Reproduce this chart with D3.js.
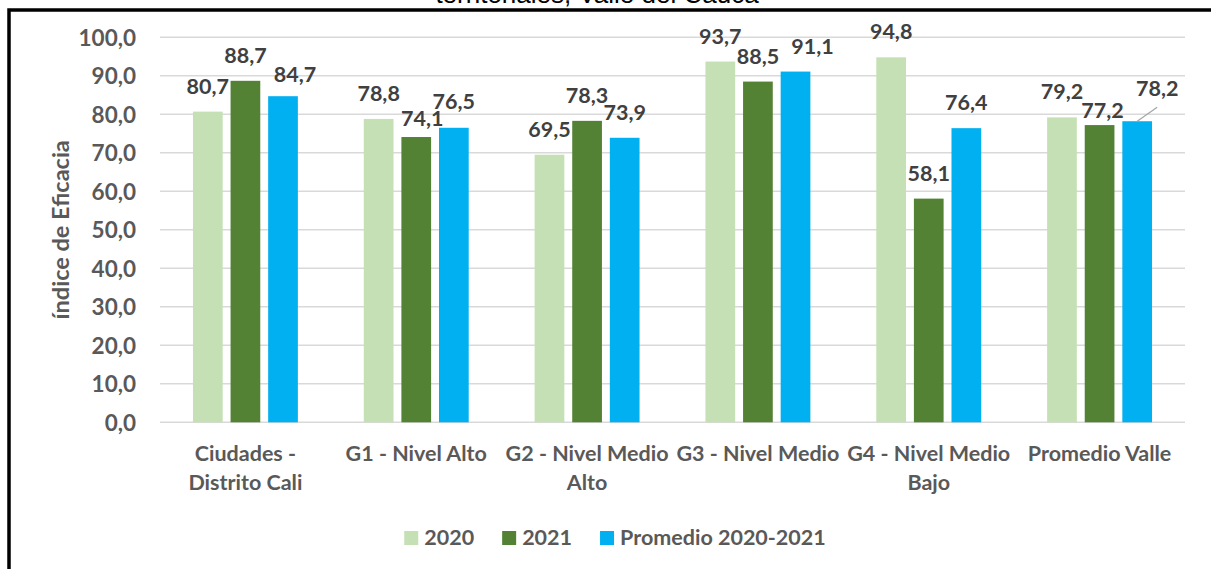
<!DOCTYPE html>
<html>
<head>
<meta charset="utf-8">
<script src="https://cdn.jsdelivr.net/npm/d3@7"></script>
<style>
  html, body { margin: 0; padding: 0; background: #ffffff; }
  svg { display: block; }
</style>
</head>
<body>
<svg id="chart" width="1211" height="569"></svg>
<script>
// ---- data ----
const categories = ["Ciudades - Distrito Cali", "G1 - Nivel Alto", "G2 - Nivel Medio Alto", "G3 - Nivel Medio", "G4 - Nivel Medio Bajo", "Promedio Valle"];
const seriesNames = ["2020", "2021", "Promedio 2020-2021"];
const values2020 = [80.7, 78.8, 69.5, 93.7, 94.8, 79.2];
const values2021 = [88.7, 74.1, 78.3, 88.5, 58.1, 77.2];
const valuesProm = [84.7, 76.5, 73.9, 91.1, 76.4, 78.2];
const yTicks = [0, 10, 20, 30, 40, 50, 60, 70, 80, 90, 100];
const titleText = "territoriales, Valle del Cauca";
const yAxisTitle = "índice de Eficacia";

// ---- styling / layout (kept separate from data) ----
const colors = ["#c5e0b4", "#548235", "#00b0f0"];
// label nudges [dx, dy] per series, per category (manual label placement in the original)
const labelNudge = [
  [[0,0],[0,0],[0,0],[0,0],[0,0],[0,0]],
  [[0,0],[6,7],[0,0],[0,0],[0,0],[3,11]],
  [[12,4],[0,-1],[0,0],[17,0],[0,0],[20,-7]]
];
const leaderLines = [[2,5]]; // [series, category] with a leader line

const svg = d3.select("#chart");
const W = 1211, H = 569;
const plot = { left: 160, right: 1185, top: 37.3, bottom: 422.3 };
const FONT = "Lato, sans-serif";

// frame border
svg.append("rect")
  .attr("x", 9).attr("y", 10)
  .attr("width", W + 20).attr("height", H + 20)
  .attr("fill", "none").attr("stroke", "#000").attr("stroke-width", 3.5);

// title (clipped at top)
svg.append("text")
  .attr("x", 597).attr("y", 3)
  .attr("text-anchor", "middle")
  .attr("font-family", "Liberation Sans, Arial, sans-serif")
  .attr("font-size", 26)
  .attr("fill", "#000")
  .text(titleText);

const y = d3.scaleLinear().domain([0, 100]).range([plot.bottom, plot.top]);
const x0 = d3.scaleBand().domain(categories).range([plot.left, plot.right]).padding(0);
const bw = x0.bandwidth();
const groupW = 104.9;
const x1 = d3.scaleBand().domain(seriesNames)
  .range([(bw - groupW) / 2, (bw + groupW) / 2])
  .paddingInner(0.21).paddingOuter(0);

const fmt = v => d3.format(".1f")(v).replace(".", ",");

// gridlines
svg.append("g").selectAll("line").data(yTicks).join("line")
  .attr("x1", plot.left).attr("x2", plot.right)
  .attr("y1", d => y(d)).attr("y2", d => y(d))
  .attr("stroke", "#d9d9d9").attr("stroke-width", 1.5);

// y axis tick labels via d3 axis
const yAxis = d3.axisLeft(y).tickValues(yTicks).tickFormat(fmt).tickSize(0).tickPadding(0);
const gy = svg.append("g").attr("transform", `translate(136,0)`).call(yAxis);
gy.select(".domain").remove();
gy.selectAll("text")
  .attr("font-family", FONT)
  .attr("font-weight", "bold")
  .attr("font-size", 22.5)
  .attr("fill", "#595959")
  .attr("dy", "0.36em");

// y axis title
svg.append("text")
  .attr("transform", `translate(69,${(plot.top + plot.bottom) / 2}) rotate(-90)`)
  .attr("text-anchor", "middle")
  .attr("font-family", FONT)
  .attr("font-weight", "bold")
  .attr("font-size", 23.5)
  .attr("fill", "#595959")
  .text(yAxisTitle);

const seriesValues = [values2020, values2021, valuesProm];

// bars
seriesNames.forEach((s, si) => {
  svg.append("g").selectAll("rect").data(categories).join("rect")
    .attr("x", (c) => x0(c) + x1(s))
    .attr("width", x1.bandwidth())
    .attr("y", (c, i) => y(seriesValues[si][i]))
    .attr("height", (c, i) => y(0) - y(seriesValues[si][i]))
    .attr("fill", colors[si]);
});

// leader lines
leaderLines.forEach(([si, ci]) => {
  const c = categories[ci];
  const bx = x0(c) + x1(seriesNames[si]) + x1.bandwidth() / 2;
  const by = y(seriesValues[si][ci]);
  const n = labelNudge[si][ci];
  svg.append("line")
    .attr("x1", bx).attr("y1", by)
    .attr("x2", bx + n[0]).attr("y2", by - 14)
    .attr("stroke", "#a6a6a6").attr("stroke-width", 1.3);
});

// data labels
seriesNames.forEach((s, si) => {
  svg.append("g").selectAll("text").data(categories).join("text")
    .attr("x", (c, i) => x0(c) + x1(s) + x1.bandwidth() / 2 + labelNudge[si][i][0])
    .attr("y", (c, i) => y(seriesValues[si][i]) - 18 + labelNudge[si][i][1])
    .attr("text-anchor", "middle")
    .attr("font-family", FONT)
    .attr("font-weight", "bold")
    .attr("font-size", 21.5)
    .attr("fill", "#404040")
    .text((c, i) => fmt(seriesValues[si][i]));
});

// x axis labels (wrapped to band width)
const xAxis = d3.axisBottom(x0).tickSize(0).tickPadding(0);
const gx = svg.append("g").attr("transform", `translate(0,${plot.bottom})`).call(xAxis);
gx.select(".domain").remove();
gx.selectAll("text")
  .attr("font-family", FONT)
  .attr("font-weight", "bold")
  .attr("font-size", 21.5)
  .attr("fill", "#595959")
  .attr("y", 39).attr("dy", 0)
  .each(function(d) {
    const t = d3.select(this);
    const words = d.split(" ");
    t.text(null);
    let line = [];
    let tspan = t.append("tspan").attr("x", 0).attr("y", 39);
    let lineNo = 0;
    words.forEach(w => {
      line.push(w);
      tspan.text(line.join(" "));
      if (tspan.node().getComputedTextLength() > bw - 2 && line.length > 1) {
        line.pop();
        tspan.text(line.join(" "));
        line = [w];
        lineNo++;
        tspan = t.append("tspan").attr("x", 0).attr("y", 39 + lineNo * 29).text(w);
      }
    });
  });

// legend
const legendItems = seriesNames.map((s, i) => ({ s, c: colors[i] }));
const lg = svg.append("g");
let lx = 0;
const items = lg.selectAll("g").data(legendItems).join("g");
items.append("rect").attr("width", 14).attr("height", 14).attr("y", -14).attr("fill", d => d.c);
items.append("text")
  .attr("x", 20).attr("y", 0)
  .attr("font-family", FONT)
  .attr("font-weight", "bold")
  .attr("font-size", 21.5)
  .attr("fill", "#595959")
  .text(d => d.s);
items.each(function() {
  d3.select(this).attr("transform", `translate(${lx},0)`);
  lx += this.getBBox().width + 28;
});
const totalW = lx - 28;
lg.attr("transform", `translate(${615 - totalW / 2},545)`);
</script>
</body>
</html>
